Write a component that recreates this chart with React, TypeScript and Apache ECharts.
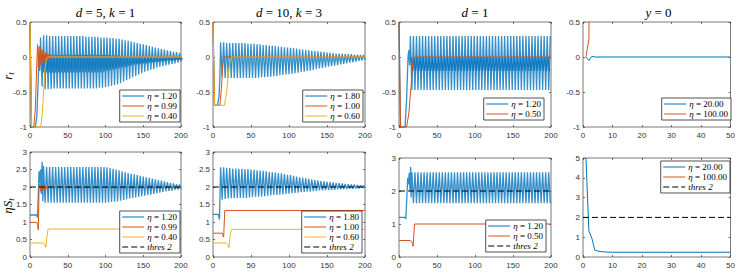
import React, { useEffect, useRef } from 'react';
import * as echarts from 'echarts';

const BLUE = '#0072BD';
const ORANGE = '#D95319';
const YELLOW = '#EDB120';
const BLACK = '#000000';

// ---------- tick ranges [min, max, interval] ----------
const X_LONG = [0, 200, 50];
const X_SHORT = [0, 50, 10];
const Y_R = [-1, 0.5, 0.5];
const Y_S3 = [0, 3, 0.5];
const Y_S3B = [0, 3, 1];
const Y_S5 = [0, 5, 1];

// ---------- titles ----------
const TITLES = ['{i|d} = 5, {i|k} = 1', '{i|d} = 10, {i|k} = 3', '{i|d} = 1', '{i|y} = 0'];

// ---------- r_t, d=5, k=1 ----------
const P1_BLUE_PRE = [[0, 0.5], [2, -1], [7, -1], [9, -0.85], [11, -0.3], [12, 0.05], [13, -0.2]];
const P1_BLUE_UP = [0.28, 0.31, 0.31, 0.30, 0.30, 0.30, 0.30, 0.30, 0.30, 0.30, 0.30, 0.30, 0.30, 0.30, 0.30, 0.29, 0.29, 0.29, 0.29, 0.29, 0.28, 0.28, 0.28, 0.27, 0.27, 0.26, 0.26, 0.25, 0.24, 0.23, 0.22, 0.21, 0.20, 0.19, 0.18, 0.17, 0.155, 0.145, 0.135, 0.125, 0.115, 0.105, 0.095, 0.085, 0.075, 0.07, 0.06];
const P1_BLUE_LO = [-0.42, -0.46, -0.46, -0.46, -0.45, -0.45, -0.45, -0.45, -0.45, -0.45, -0.45, -0.45, -0.45, -0.45, -0.45, -0.45, -0.45, -0.45, -0.45, -0.44, -0.44, -0.43, -0.42, -0.41, -0.40, -0.39, -0.37, -0.35, -0.33, -0.31, -0.29, -0.27, -0.25, -0.23, -0.21, -0.20, -0.18, -0.17, -0.15, -0.14, -0.13, -0.12, -0.11, -0.10, -0.09, -0.08, -0.07];
const P1_BAND_HI = [0.03, 0.03, 0.03, 0.03, 0.03, 0.03, 0.03, 0.03, 0.03, 0.03, 0.03, 0.03, 0.03, 0.03, 0.03, 0.03, 0.03, 0.03, 0.03, 0.03, 0.03, 0.03, 0.03, 0.02, 0.02, 0.02, 0.01, 0.01, 0.01, 0.0, 0.0, 0.0, 0.0, 0.0, 0.0, 0.0, 0.0, 0.0, 0.0, 0.0, 0.0, 0.0, 0.0, 0.0, 0.0, 0.0, 0.0];
const P1_BAND_LO = [-0.22, -0.22, -0.22, -0.22, -0.22, -0.22, -0.22, -0.22, -0.22, -0.22, -0.22, -0.22, -0.22, -0.22, -0.22, -0.22, -0.22, -0.22, -0.22, -0.22, -0.21, -0.20, -0.19, -0.18, -0.17, -0.16, -0.15, -0.14, -0.13, -0.12, -0.11, -0.10, -0.10, -0.09, -0.09, -0.08, -0.08, -0.07, -0.07, -0.06, -0.06, -0.05, -0.05, -0.05, -0.04, -0.04, -0.04];
const P1_ORANGE = [[0, 0.5], [2, -1], [5, -1], [7, -0.75], [9, -0.1], [10, 0.18], [11, -0.15], [12, 0.15], [13, -0.12], [14, 0.12], [15, -0.1], [16, 0.1], [17, -0.08], [18, 0.08], [19, -0.06], [20, 0.06], [21, -0.05], [22, 0.05], [23, -0.04], [24, 0.04], [25, -0.03], [26, 0.03], [28, -0.02], [30, 0.02], [33, -0.01], [36, 0.01], [40, 0], [200, 0]];
const P1_YELLOW = [[0, 0.5], [2, -1], [14, -1], [16, -0.85], [18, -0.5], [20, -0.15], [22, -0.02], [24, 0], [200, 0]];

// ---------- r_t, d=10, k=3 ----------
const P2_BLUE_PRE = [[0, 0.5], [2, -0.69], [6, -0.69], [8, -0.55], [9, -0.3]];
const P2_BLUE_UP = [0.21, 0.21, 0.20, 0.20, 0.20, 0.20, 0.20, 0.20, 0.20, 0.19, 0.19, 0.19, 0.18, 0.18, 0.17, 0.17, 0.165, 0.16, 0.155, 0.15, 0.145, 0.14, 0.135, 0.13, 0.125, 0.12, 0.11, 0.105, 0.10, 0.095, 0.09, 0.085, 0.08, 0.075, 0.07, 0.065, 0.06, 0.055, 0.05, 0.05, 0.045, 0.045, 0.04, 0.04, 0.035, 0.035, 0.03, 0.03];
const P2_BLUE_LO = [-0.28, -0.30, -0.30, -0.30, -0.30, -0.30, -0.30, -0.30, -0.30, -0.30, -0.30, -0.30, -0.295, -0.29, -0.29, -0.285, -0.28, -0.275, -0.27, -0.26, -0.255, -0.25, -0.245, -0.24, -0.23, -0.225, -0.215, -0.21, -0.20, -0.195, -0.185, -0.175, -0.165, -0.16, -0.15, -0.14, -0.13, -0.125, -0.115, -0.105, -0.10, -0.09, -0.08, -0.075, -0.065, -0.055, -0.05, -0.04];
const P2_ORANGE = [[0, 0.5], [2, -0.69], [9, -0.69], [11, -0.45], [13, -0.08], [15, 0], [200, 0]];
const P2_YELLOW = [[0, 0.5], [2, -0.69], [15, -0.69], [18, -0.5], [21, -0.15], [23, -0.02], [25, 0], [200, 0]];

// ---------- r_t, d=1 ----------
const P3_BLUE_PRE = [[0, 0.5], [2, -1], [8, -1], [10, -0.6], [12, 0.02], [13, 0.1], [14, -0.12]];
const P3_BLUE_UP = [0.3, 0.3, 0.3, 0.3, 0.3, 0.3, 0.3, 0.3, 0.3, 0.3, 0.3, 0.3, 0.3, 0.3, 0.3, 0.3, 0.3, 0.3, 0.3, 0.3, 0.3, 0.3, 0.3, 0.3, 0.3, 0.3, 0.3, 0.3, 0.3, 0.3, 0.3, 0.3, 0.3, 0.3, 0.3, 0.3, 0.3, 0.3, 0.3, 0.3, 0.3, 0.3, 0.3, 0.3, 0.3, 0.3, 0.3];
const P3_BLUE_LO = [-0.47, -0.47, -0.47, -0.47, -0.47, -0.47, -0.47, -0.47, -0.47, -0.47, -0.47, -0.47, -0.47, -0.47, -0.47, -0.47, -0.47, -0.47, -0.47, -0.47, -0.47, -0.47, -0.47, -0.47, -0.47, -0.47, -0.47, -0.47, -0.47, -0.47, -0.47, -0.47, -0.47, -0.47, -0.47, -0.47, -0.47, -0.47, -0.47, -0.47, -0.47, -0.47, -0.47, -0.47, -0.47, -0.47];
const P3_BAND_HI = [0.0, 0.0, 0.0, 0.0, 0.0, 0.0, 0.0, 0.0, 0.0, 0.0, 0.0, 0.0, 0.0, 0.0, 0.0, 0.0, 0.0, 0.0, 0.0, 0.0, 0.0, 0.0, 0.0, 0.0, 0.0, 0.0, 0.0, 0.0, 0.0, 0.0, 0.0, 0.0, 0.0, 0.0, 0.0, 0.0, 0.0, 0.0, 0.0, 0.0, 0.0, 0.0, 0.0, 0.0, 0.0, 0.0];
const P3_BAND_LO = [-0.2, -0.2, -0.2, -0.2, -0.2, -0.2, -0.2, -0.2, -0.2, -0.2, -0.2, -0.2, -0.2, -0.2, -0.2, -0.2, -0.2, -0.2, -0.2, -0.2, -0.2, -0.2, -0.2, -0.2, -0.2, -0.2, -0.2, -0.2, -0.2, -0.2, -0.2, -0.2, -0.2, -0.2, -0.2, -0.2, -0.2, -0.2, -0.2, -0.2, -0.2, -0.2, -0.2, -0.2, -0.2, -0.2];
const P3_ORANGE = [[0, 0.5], [2, -1], [10, -1], [13, -0.8], [16, -0.4], [18, -0.08], [19.5, 0], [200, 0]];

// ---------- r_t, y=0 ----------
const P4_BLUE = [[1, 0], [2, -0.05], [3, 0.01], [4, 0], [50, 0]];
const P4_ORANGE = [[1, 0], [2, 0.25], [3, 8]];

// ---------- eta S_t, d=5, k=1 ----------
const P5_BLUE_PRE = [[0, 1.2], [9, 1.2], [10, 1.12], [12, 2.45], [13, 2.1], [14, 2.5], [15, 1.8], [16, 2.72], [17, 1.6]];
const P5_BLUE_UP = [2.60, 2.57, 2.57, 2.57, 2.57, 2.57, 2.57, 2.57, 2.57, 2.57, 2.57, 2.57, 2.57, 2.57, 2.57, 2.57, 2.57, 2.57, 2.57, 2.57, 2.57, 2.56, 2.54, 2.52, 2.50, 2.48, 2.45, 2.42, 2.40, 2.38, 2.36, 2.34, 2.32, 2.30, 2.28, 2.26, 2.24, 2.22, 2.20, 2.18, 2.16, 2.14, 2.12, 2.10, 2.08, 2.07];
const P5_BLUE_LO = [1.55, 1.55, 1.55, 1.55, 1.55, 1.55, 1.55, 1.55, 1.55, 1.55, 1.55, 1.55, 1.55, 1.55, 1.55, 1.55, 1.55, 1.55, 1.55, 1.55, 1.55, 1.56, 1.57, 1.58, 1.59, 1.61, 1.63, 1.65, 1.67, 1.69, 1.70, 1.72, 1.74, 1.75, 1.77, 1.78, 1.80, 1.82, 1.84, 1.86, 1.88, 1.89, 1.90, 1.92, 1.93, 1.94];
const P5_ORANGE = [[0, 0.99], [9, 0.99], [10, 0.93], [11, 0.77], [12, 1.95], [13, 2.08], [14, 1.88], [15, 2.07], [16, 1.9], [17, 2.05], [18, 1.92], [19, 2.04], [20, 1.93], [21, 2.03], [22, 1.95], [23, 2.02], [24, 1.96], [26, 2.01], [28, 1.97], [30, 1.99], [200, 1.98]];
const P5_YELLOW = [[0, 0.4], [18, 0.4], [19.5, 0.36], [21, 0.28], [22.5, 0.6], [24, 0.8], [200, 0.8]];

// ---------- eta S_t, d=10, k=3 ----------
const P6_BLUE_PRE = [[0, 1.22], [7, 1.22], [8.5, 1.07]];
const P6_BLUE_UP = [2.56, 2.56, 2.55, 2.54, 2.53, 2.53, 2.52, 2.52, 2.51, 2.51, 2.50, 2.49, 2.48, 2.47, 2.46, 2.45, 2.43, 2.42, 2.41, 2.40, 2.39, 2.37, 2.35, 2.34, 2.32, 2.30, 2.28, 2.26, 2.25, 2.23, 2.21, 2.20, 2.19, 2.17, 2.16, 2.15, 2.14, 2.13, 2.12, 2.11, 2.10, 2.09, 2.08, 2.07, 2.07, 2.06, 2.05, 2.05];
const P6_BLUE_LO = [1.64, 1.66, 1.67, 1.68, 1.68, 1.69, 1.69, 1.69, 1.69, 1.70, 1.71, 1.72, 1.72, 1.73, 1.74, 1.75, 1.76, 1.77, 1.77, 1.78, 1.79, 1.80, 1.81, 1.82, 1.83, 1.84, 1.85, 1.86, 1.87, 1.87, 1.88, 1.89, 1.90, 1.90, 1.91, 1.91, 1.92, 1.92, 1.93, 1.93, 1.94, 1.94, 1.95, 1.95, 1.96, 1.96, 1.97, 1.97];
const P6_ORANGE = [[0, 0.68], [12, 0.68], [13, 0.62], [14, 0.57], [15.5, 1.33], [200, 1.33]];
const P6_YELLOW = [[0, 0.4], [17.5, 0.4], [19, 0.36], [21, 0.27], [23, 0.7], [24.5, 0.79], [200, 0.79]];

// ---------- eta S_t, d=1 ----------
const P7_BLUE_PRE = [[0, 1.2], [8, 1.2], [9, 1.15], [11.5, 2.4], [12.5, 2.2], [13.5, 2.55], [14.5, 2.0], [15.3, 2.73], [16, 1.8]];
const P7_BLUE_UP = [2.57, 2.57, 2.57, 2.57, 2.57, 2.57, 2.57, 2.57, 2.57, 2.57, 2.57, 2.57, 2.57, 2.57, 2.57, 2.57, 2.57, 2.57, 2.57, 2.57, 2.57, 2.57, 2.57, 2.57, 2.57, 2.57, 2.57, 2.57, 2.57, 2.57, 2.57, 2.57, 2.57, 2.57, 2.57, 2.57, 2.57, 2.57, 2.57, 2.57, 2.57, 2.57, 2.57, 2.57, 2.57, 2.57];
const P7_BLUE_LO = [1.63, 1.63, 1.63, 1.63, 1.63, 1.63, 1.63, 1.63, 1.63, 1.63, 1.63, 1.63, 1.63, 1.63, 1.63, 1.63, 1.63, 1.63, 1.63, 1.63, 1.63, 1.63, 1.63, 1.63, 1.63, 1.63, 1.63, 1.63, 1.63, 1.63, 1.63, 1.63, 1.63, 1.63, 1.63, 1.63, 1.63, 1.63, 1.63, 1.63, 1.63, 1.63, 1.63, 1.63, 1.63, 1.63];
const P7_ORANGE = [[0, 0.5], [15, 0.5], [17, 0.45], [18.5, 0.32], [20.5, 1.0], [200, 1.0]];

// ---------- eta S_t, y=0 ----------
const P8_BLUE = [[1, 5], [2, 1.3], [3, 0.95], [4, 0.35], [5, 0.3], [6, 0.28], [7, 0.26], [8, 0.25], [10, 0.24], [50, 0.24]];
const P8_ORANGE: number[][] = [];

const THRES_LONG = [[0, 2], [200, 2]];
const THRES_SHORT = [[0, 2], [50, 2]];

function osc(pre: number[][], t0: number, step: number, up: number[], lo: number[]) {
  const out = pre.map((p) => [p[0], p[1]]);
  const n = Math.max(up.length, lo.length);
  for (let i = 0; i < n; i++) {
    if (i < up.length) out.push([t0 + i * step, up[i]]);
    if (i < lo.length) out.push([t0 + i * step + step / 2, lo[i]]);
  }
  return out;
}

// layout (pixels): left, top, width, height
const GRID_BOX = [
  [30, 22, 151, 105], [213, 22, 152, 105], [399, 22, 152, 105], [583, 22, 151, 105],
  [30, 152, 151, 105], [213, 152, 152, 105], [399, 158, 152, 99], [583, 158, 151, 99],
];

type S = { name: string; color: string; data: number[][]; dash?: boolean; thin?: boolean; hidden?: boolean };

const PLOTS: { x: number[]; y: number[]; series: S[]; legend: any }[] = [
  {
    x: X_LONG, y: Y_R,
    series: [
      { name: 'η = 1.20', color: BLUE, data: osc(P1_BLUE_PRE, 14, 4, P1_BLUE_UP, P1_BLUE_LO), thin: true },
      { name: 'band1', color: BLUE, data: osc([], 16, 4, P1_BAND_HI, P1_BAND_LO), thin: true, hidden: true },
      { name: 'η = 0.99', color: ORANGE, data: P1_ORANGE },
      { name: 'η = 0.40', color: YELLOW, data: P1_YELLOW },
    ],
    legend: { right: 558, bottom: 155 },
  },
  {
    x: X_LONG, y: Y_R,
    series: [
      { name: 'η = 1.80', color: BLUE, data: osc(P2_BLUE_PRE, 10, 4, P2_BLUE_UP, P2_BLUE_LO), thin: true },
      { name: 'η = 1.00', color: ORANGE, data: P2_ORANGE },
      { name: 'η = 0.60', color: YELLOW, data: P2_YELLOW },
    ],
    legend: { right: 375, bottom: 155 },
  },
  {
    x: X_LONG, y: Y_R,
    series: [
      { name: 'η = 1.20', color: BLUE, data: osc(P3_BLUE_PRE, 15, 4, P3_BLUE_UP, P3_BLUE_LO), thin: true },
      { name: 'band3', color: BLUE, data: osc([], 16, 4, P3_BAND_HI, P3_BAND_LO), thin: true, hidden: true },
      { name: 'η = 0.50', color: ORANGE, data: P3_ORANGE },
    ],
    legend: { right: 194, bottom: 157 },
  },
  {
    x: X_SHORT, y: Y_R,
    series: [
      { name: 'η = 20.00', color: BLUE, data: P4_BLUE },
      { name: 'η = 100.00', color: ORANGE, data: P4_ORANGE },
    ],
    legend: { right: 7, bottom: 157 },
  },
  {
    x: X_LONG, y: Y_S3,
    series: [
      { name: 'η = 1.20', color: BLUE, data: osc(P5_BLUE_PRE, 18, 4, P5_BLUE_UP, P5_BLUE_LO), thin: true },
      { name: 'η = 0.99', color: ORANGE, data: P5_ORANGE },
      { name: 'η = 0.40', color: YELLOW, data: P5_YELLOW },
      { name: 'thres 2', color: BLACK, data: THRES_LONG, dash: true },
    ],
    legend: { right: 558, bottom: 24 },
  },
  {
    x: X_LONG, y: Y_S3,
    series: [
      { name: 'η = 1.80', color: BLUE, data: osc(P6_BLUE_PRE, 10, 4, P6_BLUE_UP, P6_BLUE_LO), thin: true },
      { name: 'η = 1.00', color: ORANGE, data: P6_ORANGE },
      { name: 'η = 0.60', color: YELLOW, data: P6_YELLOW },
      { name: 'thres 2', color: BLACK, data: THRES_LONG, dash: true },
    ],
    legend: { right: 376, bottom: 24 },
  },
  {
    x: X_LONG, y: Y_S3B,
    series: [
      { name: 'η = 1.20', color: BLUE, data: osc(P7_BLUE_PRE, 17, 4, P7_BLUE_UP, P7_BLUE_LO), thin: true },
      { name: 'η = 0.50', color: ORANGE, data: P7_ORANGE },
      { name: 'thres 2', color: BLACK, data: THRES_LONG, dash: true },
    ],
    legend: { right: 192, bottom: 25 },
  },
  {
    x: X_SHORT, y: Y_S5,
    series: [
      { name: 'η = 20.00', color: BLUE, data: P8_BLUE },
      { name: 'η = 100.00', color: ORANGE, data: P8_ORANGE },
      { name: 'thres 2', color: BLACK, data: THRES_SHORT, dash: true },
    ],
    legend: { right: 8, top: 161 },
  },
];

const AX = '#3a3a3a';
const SANS = 'Liberation Sans, Arial, sans-serif';
const SERIF = 'Liberation Serif, Times New Roman, serif';

function buildOption() {
  const grid = GRID_BOX.map((b) => ({
    left: b[0], top: b[1], width: b[2], height: b[3],
    show: true, borderColor: '#555', borderWidth: 0.8, containLabel: false,
  }));
  const tick = { inside: true, length: 2, lineStyle: { color: AX, width: 0.7 } };
  const xAxis: any[] = [];
  const yAxis: any[] = [];
  PLOTS.forEach((p, i) => {
    xAxis.push({
      type: 'value', gridIndex: i, min: p.x[0], max: p.x[1], interval: p.x[2],
      axisLine: { show: false, onZero: false }, splitLine: { show: false }, axisTick: tick,
      axisLabel: { fontSize: 8, color: '#333', margin: 4, fontFamily: SANS },
    });
    yAxis.push({
      type: 'value', gridIndex: i, min: p.y[0], max: p.y[1], interval: p.y[2],
      axisLine: { show: false, onZero: false }, splitLine: { show: false }, axisTick: tick,
      axisLabel: { fontSize: 8, color: '#333', margin: 3, fontFamily: SANS },
    });
  });
  PLOTS.forEach((p, i) => {
    xAxis.push({
      type: 'value', gridIndex: i, position: 'top', min: p.x[0], max: p.x[1], interval: p.x[2],
      axisLine: { show: false, onZero: false }, splitLine: { show: false }, axisLabel: { show: false },
      axisTick: tick,
    });
    yAxis.push({
      type: 'value', gridIndex: i, position: 'right', min: p.y[0], max: p.y[1], interval: p.y[2],
      axisLine: { show: false, onZero: false }, splitLine: { show: false }, axisLabel: { show: false },
      axisTick: tick,
    });
  });

  const series: any[] = [];
  PLOTS.forEach((p, i) => {
    p.series.forEach((s) => {
      series.push({
        type: 'line', name: s.name, xAxisIndex: i, yAxisIndex: i,
        data: s.data, showSymbol: false, symbol: 'none', clip: true,
        color: s.color,
        lineStyle: s.thin
          ? { color: s.color, width: 1.3, opacity: 0.8 }
          : { color: s.color, width: 1, type: s.dash ? [6, 3] : 'solid' },
        silent: true,
      });
    });
  });

  const legend = PLOTS.map((p) => ({
    ...p.legend,
    orient: 'vertical',
    data: p.series.filter((s) => !s.hidden).map((s) => s.name),
    backgroundColor: '#fff',
    borderColor: '#262626',
    borderWidth: 0.8,
    borderRadius: 0,
    padding: [1, 3, 1, 2],
    itemGap: 0,
    itemWidth: 22,
    itemHeight: 9,
    selectedMode: false,
    itemStyle: { opacity: 0, borderWidth: 0 },
    lineStyle: { width: 1, opacity: 1 },
    formatter: (name: string) => (name.startsWith('η') ? '{g|η}' + name.slice(1) : '{t|' + name + '}'),
    textStyle: {
      fontFamily: SERIF, fontSize: 9, color: '#000', lineHeight: 10, padding: [0, 0, 0, -2],
      rich: {
        g: { fontFamily: SERIF, fontSize: 9, fontStyle: 'italic', color: '#000' },
        t: { fontFamily: SERIF, fontSize: 9, fontStyle: 'italic', color: '#000' },
      },
    },
  }));

  const graphic: any[] = [];
  TITLES.forEach((t, i) => {
    const b = GRID_BOX[i];
    graphic.push({
      type: 'text', x: b[0] + b[2] / 2, y: 12, silent: true,
      style: {
        text: t, align: 'center', verticalAlign: 'middle',
        fontFamily: SERIF, fontSize: 13, fill: '#000',
        rich: { i: { fontFamily: SERIF, fontSize: 13, fontStyle: 'italic', fill: '#000' } },
      },
    });
  });
  const yl = (text: string, y: number) => ({
    type: 'text', x: 8, y, rotation: Math.PI / 2, silent: true,
    style: {
      text, align: 'center', verticalAlign: 'middle', fill: '#000',
      rich: {
        a: { fontFamily: SERIF, fontSize: 13, fontStyle: 'italic', lineHeight: 14, verticalAlign: 'top' },
        b: { fontFamily: SERIF, fontSize: 9, fontStyle: 'italic', lineHeight: 8, verticalAlign: 'bottom' },
      },
    },
  });
  graphic.push(yl('{a|r}{b|t}', 76));
  graphic.push(yl('{a|ηS}{b|t}', 206));

  return { animation: false, backgroundColor: '#fff', grid, xAxis, yAxis, series, legend, graphic };
}

export default function App() {
  const ref = useRef<HTMLDivElement>(null);
  useEffect(() => {
    if (!ref.current) return;
    const chart = echarts.init(ref.current, undefined, { renderer: 'svg' });
    chart.setOption(buildOption() as any);
    return () => chart.dispose();
  }, []);
  return (
    <div
      ref={ref}
      style={{ position: 'fixed', left: 0, top: 0, width: 738, height: 277, background: '#fff' }}
    />
  );
}
